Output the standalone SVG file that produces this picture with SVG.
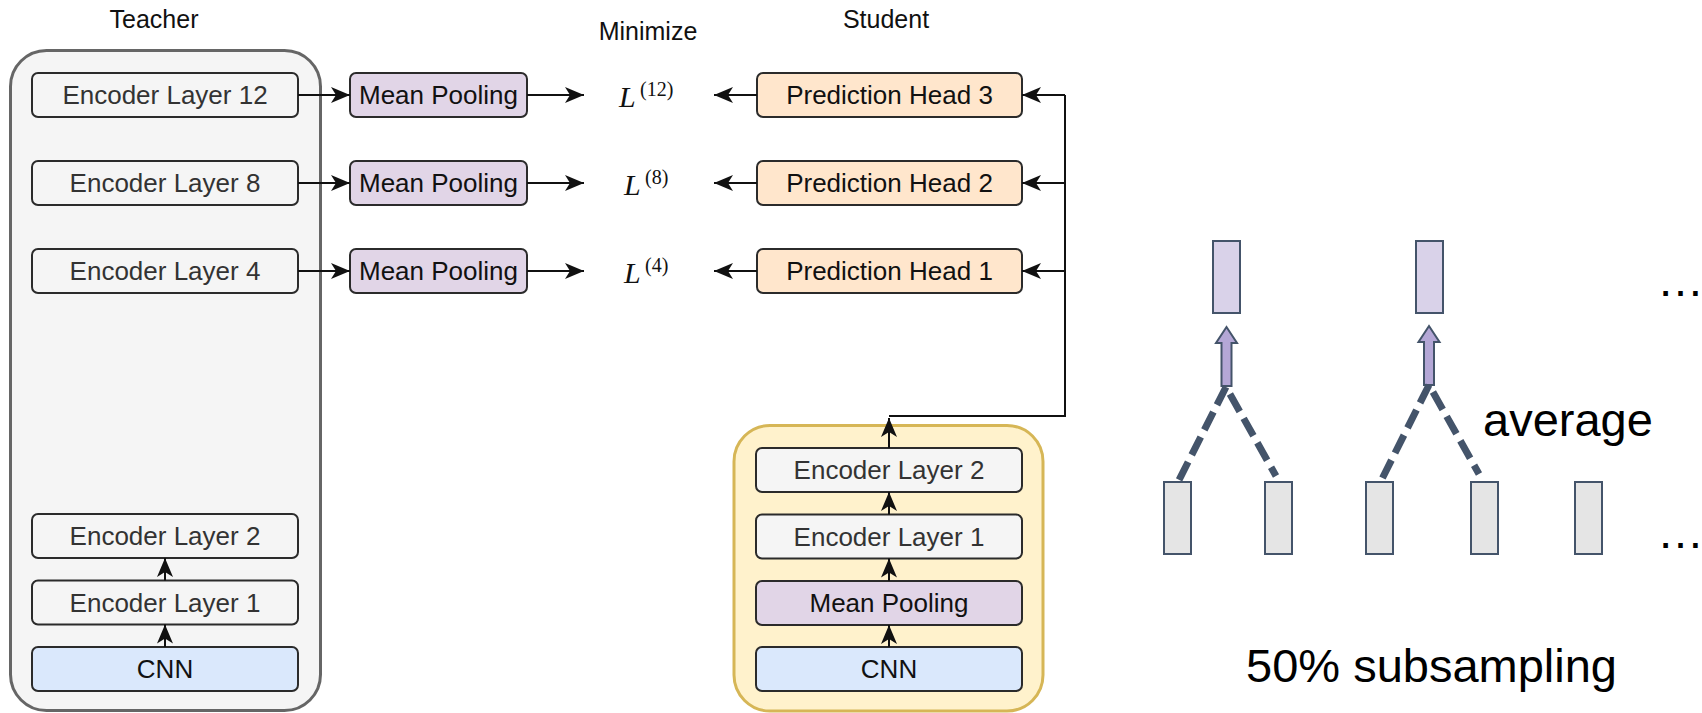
<svg xmlns="http://www.w3.org/2000/svg" width="1702" height="713" viewBox="0 0 1702 713">
  <defs>
    <style>
      .lbl { font-family: "Liberation Sans", Arial, Helvetica, sans-serif; font-size: 26px; text-anchor: middle; }
      .box { stroke: #2b2b2b; stroke-width: 2; }
      .enc { fill: #f5f5f5; }
      .pool { fill: #e1d5e7; }
      .head { fill: #ffe6cc; }
      .cnn { fill: #dae8fc; }
      .t-enc { fill: #333333; }
      .t-dark { fill: #111111; }
      .title { font-family: "Liberation Sans", Arial, Helvetica, sans-serif; font-size: 25px; text-anchor: middle; fill: #111111; }
      .math { font-family: "Liberation Serif", "Times New Roman", serif; fill: #111111; }
      .ell { font-size: 30px; font-style: italic; }
      .sup { font-size: 20px; }
      .edge { fill: none; stroke: #111111; stroke-width: 2; }
      .big { font-family: "Liberation Sans", Arial, Helvetica, sans-serif; font-size: 47px; fill: #000000; }
      .tok { stroke: #44546a; stroke-width: 2; }
      .dash { fill: none; stroke: #44546a; stroke-width: 7; stroke-dasharray: 20 8; }
      .dash-r { stroke-dashoffset: 20; }
      .blk { fill: #b4a7d6; stroke: #44546a; stroke-width: 2; }
    </style>
    <marker id="arr" viewBox="0 0 19 16" refX="19" refY="8" markerWidth="19" markerHeight="16" markerUnits="userSpaceOnUse" orient="auto">
      <path d="M0,0 L19,8 L0,16 L5,8 Z" fill="#111111"/>
    </marker>
  </defs>

  <rect width="1702" height="713" fill="#ffffff"/>

  <!-- titles -->
  <text class="title" x="154" y="28">Teacher</text>
  <text class="title" x="648" y="40">Minimize</text>
  <text class="title" x="886" y="28">Student</text>

  <!-- teacher stack -->
  <g id="teacher">
    <rect x="10.5" y="50.5" width="310" height="660" rx="36" fill="#f5f5f5" stroke="#666666" stroke-width="3"/>
  </g>
  <g id="t-enc12">
    <rect class="box enc" x="32" y="73" width="266" height="44" rx="6"/>
    <text class="lbl t-enc" x="165" y="104">Encoder Layer 12</text>
  </g>
  <g id="t-enc8">
    <rect class="box enc" x="32" y="161" width="266" height="44" rx="6"/>
    <text class="lbl t-enc" x="165" y="192">Encoder Layer 8</text>
  </g>
  <g id="t-enc4">
    <rect class="box enc" x="32" y="249" width="266" height="44" rx="6"/>
    <text class="lbl t-enc" x="165" y="280">Encoder Layer 4</text>
  </g>
  <g id="t-enc2">
    <rect class="box enc" x="32" y="514" width="266" height="44" rx="6"/>
    <text class="lbl t-enc" x="165" y="545">Encoder Layer 2</text>
  </g>
  <g id="t-enc1">
    <rect class="box enc" x="32" y="580.5" width="266" height="44" rx="6"/>
    <text class="lbl t-enc" x="165" y="611.5">Encoder Layer 1</text>
  </g>
  <g id="t-cnn">
    <rect class="box cnn" x="32" y="647" width="266" height="44" rx="6"/>
    <text class="lbl t-dark" x="165" y="678">CNN</text>
  </g>

  <!-- pooling of teacher layers -->
  <g id="pool12">
    <rect class="box pool" x="350" y="73" width="177" height="44" rx="6"/>
    <text class="lbl t-dark" x="438.5" y="104">Mean Pooling</text>
  </g>
  <g id="pool8">
    <rect class="box pool" x="350" y="161" width="177" height="44" rx="6"/>
    <text class="lbl t-dark" x="438.5" y="192">Mean Pooling</text>
  </g>
  <g id="pool4">
    <rect class="box pool" x="350" y="249" width="177" height="44" rx="6"/>
    <text class="lbl t-dark" x="438.5" y="280">Mean Pooling</text>
  </g>

  <!-- losses -->
  <g id="loss12">
    <text class="math ell" x="619" y="107">L</text>
    <text class="math sup" x="640" y="96">(12)</text>
  </g>
  <g id="loss8">
    <text class="math ell" x="624" y="195">L</text>
    <text class="math sup" x="645" y="184">(8)</text>
  </g>
  <g id="loss4">
    <text class="math ell" x="624" y="283">L</text>
    <text class="math sup" x="645" y="272">(4)</text>
  </g>

  <!-- prediction heads -->
  <g id="head3">
    <rect class="box head" x="757" y="73" width="265" height="44" rx="6"/>
    <text class="lbl t-dark" x="889.5" y="104">Prediction Head 3</text>
  </g>
  <g id="head2">
    <rect class="box head" x="757" y="161" width="265" height="44" rx="6"/>
    <text class="lbl t-dark" x="889.5" y="192">Prediction Head 2</text>
  </g>
  <g id="head1">
    <rect class="box head" x="757" y="249" width="265" height="44" rx="6"/>
    <text class="lbl t-dark" x="889.5" y="280">Prediction Head 1</text>
  </g>

  <!-- student stack -->
  <g id="student">
    <rect x="734" y="425.5" width="309" height="285.5" rx="36" fill="#fff2cc" stroke="#d6b656" stroke-width="3"/>
  </g>
  <g id="s-enc2">
    <rect class="box enc" x="756" y="448" width="266" height="44" rx="6"/>
    <text class="lbl t-enc" x="889" y="479">Encoder Layer 2</text>
  </g>
  <g id="s-enc1">
    <rect class="box enc" x="756" y="514.5" width="266" height="44" rx="6"/>
    <text class="lbl t-enc" x="889" y="545.5">Encoder Layer 1</text>
  </g>
  <g id="s-pool">
    <rect class="box pool" x="756" y="581" width="266" height="44" rx="6"/>
    <text class="lbl t-dark" x="889" y="612">Mean Pooling</text>
  </g>
  <g id="s-cnn">
    <rect class="box cnn" x="756" y="647" width="266" height="44" rx="6"/>
    <text class="lbl t-dark" x="889" y="678">CNN</text>
  </g>

  <!-- connectors -->
  <g id="connectors">
    <line class="edge" x1="298" y1="95" x2="350" y2="95" marker-end="url(#arr)"/>
    <line class="edge" x1="298" y1="183" x2="350" y2="183" marker-end="url(#arr)"/>
    <line class="edge" x1="298" y1="271" x2="350" y2="271" marker-end="url(#arr)"/>

    <line class="edge" x1="527" y1="95" x2="584" y2="95" marker-end="url(#arr)"/>
    <line class="edge" x1="527" y1="183" x2="584" y2="183" marker-end="url(#arr)"/>
    <line class="edge" x1="527" y1="271" x2="584" y2="271" marker-end="url(#arr)"/>

    <line class="edge" x1="757" y1="95" x2="714" y2="95" marker-end="url(#arr)"/>
    <line class="edge" x1="757" y1="183" x2="714" y2="183" marker-end="url(#arr)"/>
    <line class="edge" x1="757" y1="271" x2="714" y2="271" marker-end="url(#arr)"/>

    <polyline class="edge" points="889,416 1065,416 1065,95"/>
    <line class="edge" x1="1065" y1="95" x2="1022" y2="95" marker-end="url(#arr)"/>
    <line class="edge" x1="1065" y1="183" x2="1022" y2="183" marker-end="url(#arr)"/>
    <line class="edge" x1="1065" y1="271" x2="1022" y2="271" marker-end="url(#arr)"/>

    <line class="edge" x1="889" y1="448" x2="889" y2="418" marker-end="url(#arr)"/>
    <line class="edge" x1="889" y1="514.5" x2="889" y2="492" marker-end="url(#arr)"/>
    <line class="edge" x1="889" y1="581" x2="889" y2="558.5" marker-end="url(#arr)"/>
    <line class="edge" x1="889" y1="647" x2="889" y2="625" marker-end="url(#arr)"/>

    <line class="edge" x1="165" y1="580.5" x2="165" y2="558" marker-end="url(#arr)"/>
    <line class="edge" x1="165" y1="647" x2="165" y2="624.5" marker-end="url(#arr)"/>
  </g>

  <!-- subsampling sketch: frame vectors averaged in pairs -->
  <g id="subsampling">
    <rect class="tok" x="1213" y="241" width="27" height="72" fill="#d9d2e9"/>
    <rect class="tok" x="1416" y="241" width="27" height="72" fill="#d9d2e9"/>

    <path class="blk" d="M1226.5,327 L1237,343 L1231.5,343 L1231.5,386 L1221.5,386 L1221.5,343 L1216,343 Z"/>
    <path class="blk" d="M1429,326 L1439.5,342 L1434,342 L1434,385 L1424,385 L1424,342 L1418.5,342 Z"/>

    <line class="dash" x1="1226" y1="387" x2="1178" y2="482"/>
    <line class="dash dash-r" x1="1226" y1="387" x2="1276" y2="476"/>
    <line class="dash" x1="1429" y1="385" x2="1381" y2="481"/>
    <line class="dash dash-r" x1="1429" y1="385" x2="1479" y2="474"/>

    <rect class="tok" x="1164" y="482" width="27" height="72" fill="#e5e5e5"/>
    <rect class="tok" x="1265" y="482" width="27" height="72" fill="#e5e5e5"/>
    <rect class="tok" x="1366" y="482" width="27" height="72" fill="#e5e5e5"/>
    <rect class="tok" x="1471" y="482" width="27" height="72" fill="#e5e5e5"/>
    <rect class="tok" x="1575" y="482" width="27" height="72" fill="#e5e5e5"/>

    <text class="big" x="1657" y="296">…</text>
    <text class="big" x="1657" y="548">…</text>
    <text class="big" x="1483" y="436">average</text>
    <text class="big" x="1246" y="682">50% subsampling</text>
  </g>
</svg>
